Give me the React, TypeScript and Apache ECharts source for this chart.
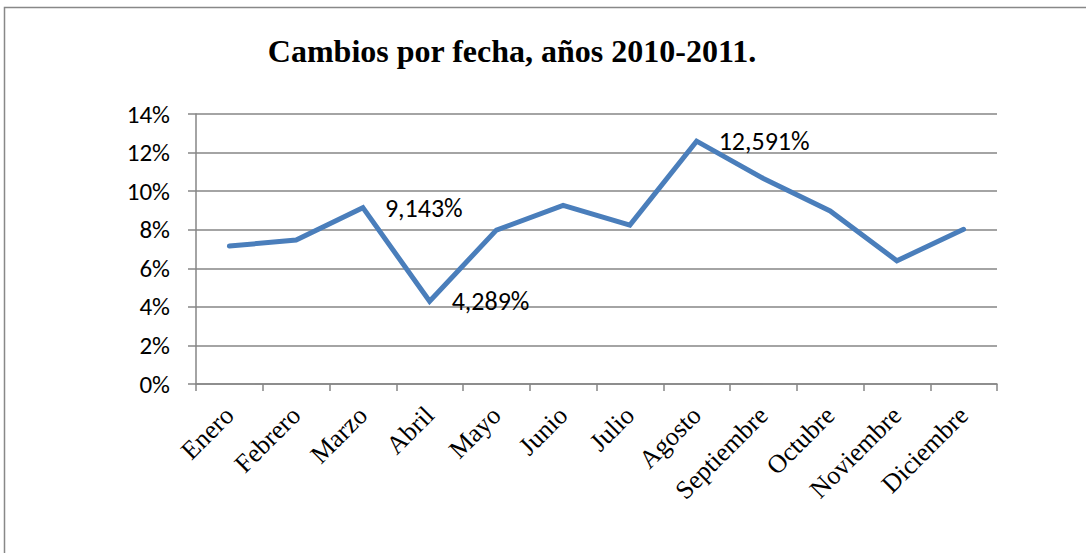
import React, { useEffect, useRef } from "react";
import * as echarts from "echarts";

const titleText = "Cambios por fecha, años 2010-2011.";
const months = [
  "Enero", "Febrero", "Marzo", "Abril", "Mayo", "Junio",
  "Julio", "Agosto", "Septiembre", "Octubre", "Noviembre", "Diciembre",
];
const values = [7.15, 7.47, 9.143, 4.289, 7.98, 9.26, 8.24, 12.591, 10.66, 8.97, 6.39, 8.02];
const labelledMonths = ["Marzo", "Abril", "Agosto"];
const yMin = 0;
const yMax = 14;
const yStep = 2;

export default function App() {
  const ref = useRef<HTMLDivElement>(null);
  useEffect(() => {
    if (!ref.current) return;
    const chart = echarts.init(ref.current, null, { renderer: "svg" });
    const sansFont = "Carlito, Lato, 'Liberation Sans', sans-serif";
    const serifFont = "'Liberation Serif', 'Times New Roman', serif";
    chart.setOption({
      animation: false,
      backgroundColor: "#ffffff",
      graphic: [
        {
          type: "rect",
          shape: { x: 4.5, y: 7.5, width: 1100, height: 600 },
          style: { fill: "none", stroke: "#888888", lineWidth: 1.5 },
          silent: true,
        },
      ],
      title: {
        text: titleText,
        left: 507,
        textAlign: "center",
        top: 30,
        textStyle: {
          fontFamily: serifFont,
          fontWeight: "bold",
          fontSize: 32,
          color: "#000000",
        },
      },
      grid: { left: 196, right: 89, top: 114, bottom: 169 },
      xAxis: {
        type: "category",
        data: months,
        boundaryGap: true,
        axisLine: { lineStyle: { color: "#868686", width: 1.5 } },
        axisTick: { show: true, length: 7, lineStyle: { color: "#868686", width: 1.5 } },
        axisLabel: {
          rotate: 45,
          margin: 27,
          fontFamily: serifFont,
          fontSize: 26,
          color: "#000000",
          interval: 0,
        },
      },
      yAxis: {
        type: "value",
        min: yMin,
        max: yMax,
        interval: yStep,
        axisLine: { show: true, lineStyle: { color: "#868686", width: 1.5 } },
        axisTick: { show: true, length: 8, lineStyle: { color: "#868686", width: 1.5 } },
        splitLine: { show: true, lineStyle: { color: "#868686", width: 1.5 } },
        axisLabel: {
          formatter: "{value}%",
          margin: 26,
          fontFamily: sansFont,
          fontSize: 25,
          color: "#000000",
        },
      },
      series: [
        {
          type: "line",
          data: values.map((v, i) => ({
            value: v,
            label: {
              show: labelledMonths.includes(months[i]),
              formatter: () => v.toFixed(3).replace(".", ",") + "%",
            },
          })),
          showSymbol: true,
          symbol: "circle",
          symbolSize: 0,
          lineStyle: { color: "#4a7ebb", width: 5, cap: "round", join: "miter" },
          itemStyle: { color: "#4a7ebb" },
          label: {
            show: false,
            position: "right",
            distance: 22,
            fontFamily: sansFont,
            fontSize: 26,
            color: "#000000",
          },
        },
      ],
    });
    return () => chart.dispose();
  }, []);
  return (
    <div
      ref={ref}
      style={{ position: "fixed", left: 0, top: 0, width: 1086, height: 553 }}
    />
  );
}
